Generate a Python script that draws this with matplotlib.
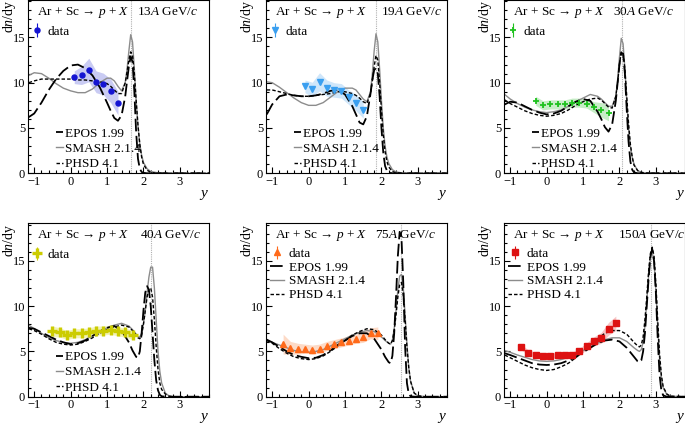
"""Ar+Sc -> p + X rapidity spectra at six beam momenta, data vs EPOS/SMASH/PHSD."""

import matplotlib

matplotlib.use("Agg")
import matplotlib.pyplot as plt
from matplotlib.ticker import MultipleLocator

plt.rcParams["font.family"] = ["Liberation Serif", "DejaVu Serif"]
plt.rcParams["mathtext.fontset"] = "custom"
plt.rcParams["mathtext.rm"] = "Liberation Serif"
plt.rcParams["mathtext.it"] = "Liberation Serif:italic"

# ---- 13A GeV/c -------------------------------------------------------------
X_13 = [-1.15, -1.0, -0.8, -0.6, -0.4, -0.2, 0.0, 0.2, 0.4, 0.6, 0.8, 1.0, 1.1, 1.2,
        1.3, 1.4, 1.5, 1.55, 1.6, 1.65, 1.7, 1.75, 1.8, 1.85, 1.9, 1.95, 2.0, 2.1,
        2.2, 2.4, 2.6, 3.0, 3.8]
EPOS_13 = [6.2, 6.6, 7.8, 9.2, 10.4, 11.3, 11.9, 12.0, 11.6, 10.8, 9.5, 7.8, 6.9, 6.1,
           5.8, 6.4, 8.5, 10.2, 11.8, 12.9, 12.3, 9.0, 4.5, 1.6, 0.5, 0.15, 0.05, 0.0,
           0.0, 0.0, 0.0, 0.0, 0.0]
SMASH_13 = [10.8, 11.1, 11.0, 10.5, 9.9, 9.4, 9.1, 8.9, 8.9, 9.3, 10.0, 10.5, 10.5, 10.2,
            9.6, 9.1, 10.0, 11.5, 13.5, 15.3, 14.5, 11.5, 8.0, 5.2, 3.2, 2.0, 1.2, 0.5,
            0.2, 0.05, 0.0, 0.0, 0.0]
PHSD_13 = [10.0, 10.2, 10.4, 10.4, 10.4, 10.4, 10.4, 10.3, 10.3, 10.2, 10.1, 9.9, 9.6, 9.2,
           8.8, 8.8, 10.0, 11.2, 12.5, 13.4, 13.0, 11.0, 8.0, 5.3, 3.2, 1.8, 1.0, 0.35,
           0.1, 0.0, 0.0, 0.0, 0.0]
DATA_X_13 = [0.1, 0.3, 0.5, 0.7, 0.9, 1.1, 1.3]
DATA_Y_13 = [10.6, 10.8, 11.4, 10.1, 9.85, 9.1, 7.75]
DATA_SYS_13 = [0.7, 1.0, 1.3, 1.2, 1.2, 1.3, 1.3]

# ---- 19A GeV/c -------------------------------------------------------------
X_19 = [-1.15, -1.0, -0.8, -0.6, -0.4, -0.2, 0.0, 0.2, 0.4, 0.6, 0.8, 1.0, 1.2, 1.3,
        1.4, 1.5, 1.6, 1.7, 1.75, 1.8, 1.85, 1.9, 1.95, 2.0, 2.05, 2.1, 2.15, 2.2,
        2.3, 2.4, 2.6, 3.0, 3.8]
EPOS_19 = [6.5, 7.6, 8.5, 8.7, 8.6, 8.5, 8.5, 8.6, 8.8, 9.1, 9.2, 8.7, 7.4, 6.5,
           5.6, 5.4, 6.3, 8.8, 10.3, 11.4, 11.6, 11.0, 8.5, 5.0, 2.3, 0.8, 0.3, 0.1,
           0.0, 0.0, 0.0, 0.0, 0.0]
SMASH_19 = [10.1, 10.0, 9.5, 8.9, 8.3, 7.8, 7.5, 7.5, 7.8, 8.4, 9.0, 9.4, 9.4, 9.2,
            8.7, 8.2, 7.9, 9.0, 11.0, 13.5, 15.4, 14.5, 11.5, 8.0, 5.0, 3.0, 1.8, 1.1,
            0.4, 0.15, 0.02, 0.0, 0.0]
PHSD_19 = [9.2, 9.2, 9.0, 8.8, 8.6, 8.5, 8.5, 8.6, 8.7, 8.8, 9.0, 9.0, 8.8, 8.6,
           8.3, 7.9, 7.7, 8.8, 10.2, 11.8, 13.0, 12.5, 10.0, 7.0, 4.3, 2.4, 1.3, 0.7,
           0.2, 0.05, 0.0, 0.0, 0.0]
DATA_X_19 = [-0.1, 0.1, 0.3, 0.5, 0.7, 0.9, 1.1, 1.3, 1.5]
DATA_Y_19 = [9.6, 9.25, 10.1, 9.4, 9.2, 9.1, 8.4, 7.8, 7.0]
DATA_SYS_19 = [0.7, 0.8, 1.0, 0.9, 0.8, 0.8, 0.8, 0.9, 0.9]

# ---- 30A GeV/c -------------------------------------------------------------
X_30 = [-1.15, -1.0, -0.8, -0.6, -0.4, -0.2, 0.0, 0.2, 0.4, 0.6, 0.8, 1.0, 1.2, 1.4,
        1.5, 1.6, 1.7, 1.8, 1.9, 1.95, 2.0, 2.05, 2.1, 2.15, 2.2, 2.25, 2.3, 2.35,
        2.4, 2.5, 2.6, 2.8, 3.8]
EPOS_30 = [7.6, 7.9, 7.8, 7.4, 7.0, 6.7, 6.5, 6.6, 6.9, 7.4, 7.9, 8.2, 8.0, 6.8,
           6.0, 5.1, 4.6, 5.4, 8.0, 10.0, 12.0, 13.3, 13.2, 11.0, 7.0, 3.5, 1.3, 0.4,
           0.1, 0.0, 0.0, 0.0, 0.0]
SMASH_30 = [8.7, 8.2, 7.7, 7.3, 7.0, 6.8, 6.7, 6.8, 7.0, 7.4, 7.9, 8.3, 8.7, 8.5,
            8.2, 7.8, 7.4, 7.4, 8.5, 10.3, 12.8, 14.9, 14.3, 11.5, 8.0, 5.0, 3.0, 1.8,
            1.0, 0.3, 0.1, 0.0, 0.0]
PHSD_30 = [8.1, 7.7, 7.3, 6.9, 6.6, 6.4, 6.3, 6.4, 6.6, 7.0, 7.5, 7.9, 8.2, 8.3,
           8.1, 7.7, 7.3, 7.2, 8.5, 10.0, 12.0, 13.4, 13.3, 11.5, 8.5, 5.5, 3.2, 1.8,
           0.9, 0.3, 0.1, 0.0, 0.0]
DATA_X_30 = [-0.3, -0.1, 0.1, 0.3, 0.5, 0.7, 0.9, 1.1, 1.3, 1.5, 1.7]
DATA_Y_30 = [8.0, 7.5, 7.6, 7.6, 7.6, 7.8, 7.8, 7.7, 7.3, 7.0, 6.7]
DATA_SYS_30 = [0.5, 0.5, 0.5, 0.5, 0.5, 0.5, 0.5, 0.5, 0.6, 0.8, 0.9]

# ---- 40A GeV/c -------------------------------------------------------------
X_40 = [-1.15, -1.0, -0.8, -0.6, -0.4, -0.2, 0.0, 0.2, 0.4, 0.6, 0.8, 1.0, 1.2, 1.4,
        1.6, 1.7, 1.8, 1.85, 1.9, 1.95, 2.0, 2.05, 2.1, 2.15, 2.2, 2.25, 2.3, 2.35,
        2.4, 2.45, 2.5, 2.6, 2.7, 2.8, 3.8]
EPOS_40 = [7.6, 7.5, 7.1, 6.7, 6.3, 6.0, 5.8, 5.9, 6.2, 6.7, 7.2, 7.6, 7.8, 7.3,
           6.0, 5.1, 4.4, 4.3, 5.0, 7.0, 9.5, 11.5, 12.2, 11.8, 10.0, 7.0, 4.0, 1.8,
           0.7, 0.2, 0.05, 0.0, 0.0, 0.0, 0.0]
SMASH_40 = [7.9, 7.5, 7.0, 6.5, 6.2, 6.0, 5.9, 6.0, 6.3, 6.7, 7.2, 7.6, 7.9, 8.1,
            7.8, 7.4, 6.9, 6.6, 6.6, 7.0, 8.0, 9.5, 11.5, 13.2, 14.3, 14.3, 12.0, 8.5,
            5.0, 2.8, 1.5, 0.4, 0.1, 0.0, 0.0]
PHSD_40 = [7.5, 7.3, 6.9, 6.4, 6.0, 5.8, 5.7, 5.8, 6.1, 6.5, 7.0, 7.4, 7.7, 7.9,
           7.7, 7.3, 6.8, 6.5, 6.4, 6.8, 8.0, 9.5, 11.0, 11.9, 12.0, 11.0, 8.5, 5.5,
           3.0, 1.5, 0.8, 0.3, 0.05, 0.0, 0.0]
DATA_X_40 = [-0.5, -0.3, -0.1, 0.1, 0.3, 0.5, 0.7, 0.9, 1.1, 1.3, 1.5, 1.7]
DATA_Y_40 = [7.2, 7.1, 6.8, 7.0, 7.0, 7.1, 7.3, 7.3, 7.4, 7.2, 7.1, 6.8]
DATA_SYS_40 = [0.6, 0.5, 0.5, 0.5, 0.5, 0.5, 0.5, 0.5, 0.5, 0.5, 0.5, 0.5]

# ---- 75A GeV/c -------------------------------------------------------------
X_75 = [-1.15, -1.0, -0.8, -0.6, -0.4, -0.2, 0.0, 0.2, 0.4, 0.6, 0.8, 1.0, 1.2, 1.4,
        1.6, 1.8, 2.0, 2.1, 2.2, 2.25, 2.3, 2.35, 2.4, 2.45, 2.5, 2.55, 2.6, 2.65,
        2.7, 2.75, 2.8, 2.9, 3.0, 3.2, 3.8]
EPOS_75 = [6.3, 6.0, 5.5, 5.0, 4.6, 4.4, 4.25, 4.3, 4.6, 5.1, 5.7, 6.2, 6.7, 7.0,
           7.0, 6.4, 5.2, 4.4, 3.8, 3.7, 4.5, 7.0, 11.0, 15.5, 18.2, 17.5, 12.5, 5.5,
           1.5, 0.3, 0.05, 0.0, 0.0, 0.0, 0.0]
SMASH_75 = [6.2, 6.0, 5.7, 5.4, 5.1, 4.95, 4.9, 5.0, 5.2, 5.6, 6.0, 6.4, 6.8, 7.1,
            7.3, 7.2, 6.6, 6.2, 5.9, 5.8, 6.2, 7.5, 9.5, 11.8, 13.3, 13.5, 12.0, 9.0,
            5.8, 3.2, 1.7, 0.4, 0.1, 0.0, 0.0]
PHSD_75 = [6.2, 5.9, 5.3, 4.8, 4.4, 4.2, 4.1, 4.2, 4.5, 5.0, 5.6, 6.2, 6.8, 7.2,
           7.5, 7.4, 6.8, 6.3, 5.9, 5.8, 6.2, 7.3, 9.0, 11.0, 12.4, 12.6, 11.2, 8.5,
           5.5, 3.2, 1.7, 0.4, 0.1, 0.0, 0.0]
DATA_X_75 = [-0.7, -0.5, -0.3, -0.1, 0.1, 0.3, 0.5, 0.7, 0.9, 1.1, 1.3, 1.5, 1.7, 1.9]
DATA_Y_75 = [5.8, 5.4, 5.3, 5.3, 5.2, 5.3, 5.6, 5.8, 6.0, 6.2, 6.4, 6.6, 7.0, 7.0]
DATA_SYS_75 = [1.1, 0.7, 0.6, 0.5, 0.5, 0.5, 0.5, 0.5, 0.5, 0.5, 0.5, 0.6, 0.6, 0.7]

# ---- 150A GeV/c ------------------------------------------------------------
X_150 = [-1.15, -1.0, -0.8, -0.6, -0.4, -0.2, 0.0, 0.2, 0.4, 0.6, 0.8, 1.0, 1.2, 1.4,
         1.6, 1.8, 2.0, 2.2, 2.4, 2.5, 2.55, 2.6, 2.65, 2.7, 2.75, 2.8, 2.85, 2.9,
         2.95, 3.0, 3.05, 3.1, 3.15, 3.2, 3.3, 3.4, 3.8]
EPOS_150 = [4.8, 4.6, 4.3, 4.0, 3.7, 3.55, 3.5, 3.55, 3.7, 4.0, 4.4, 4.9, 5.4, 5.9,
            6.2, 6.3, 6.1, 5.4, 4.4, 3.9, 3.8, 4.0, 5.0, 7.0, 10.0, 13.0, 15.5, 16.3,
            15.0, 11.5, 6.5, 2.5, 0.7, 0.15, 0.0, 0.0, 0.0]
SMASH_150 = [5.1, 4.9, 4.6, 4.35, 4.1, 3.95, 3.9, 3.95, 4.1, 4.35, 4.7, 5.1, 5.5, 5.9,
             6.3, 6.5, 6.5, 6.1, 5.4, 5.1, 5.0, 5.2, 6.0, 7.8, 10.5, 13.3, 15.3, 16.0,
             14.8, 11.8, 7.8, 4.3, 2.2, 1.0, 0.25, 0.05, 0.0]
PHSD_150 = [4.6, 4.3, 3.9, 3.5, 3.2, 3.0, 2.9, 3.0, 3.3, 3.7, 4.3, 5.0, 5.7, 6.4,
            7.0, 7.3, 7.3, 6.9, 6.0, 5.6, 5.5, 5.7, 6.6, 8.5, 11.0, 13.8, 15.8, 16.5,
            15.5, 12.5, 8.5, 4.8, 2.4, 1.1, 0.3, 0.05, 0.0]
DATA_X_150 = [-0.7, -0.5, -0.3, -0.1, 0.1, 0.3, 0.5, 0.7, 0.9, 1.1, 1.3, 1.5, 1.7, 1.9]
DATA_Y_150 = [5.5, 4.85, 4.6, 4.5, 4.5, 4.6, 4.6, 4.6, 5.0, 5.55, 6.1, 6.5, 7.5, 8.1]
DATA_SYS_150 = [0.3, 0.3, 0.3, 0.3, 0.3, 0.3, 0.3, 0.3, 0.35, 0.4, 0.5, 0.6, 0.7, 0.8]

ENERGY_LABELS = ["13", "19", "30", "40", "75", "150"]
BEAM_RAPIDITY = [1.66, 1.85, 2.08, 2.22, 2.54, 2.88]

# per-panel style: (marker, size, edge width, colour, band colour)
DATA_STYLE = [
    ("o", 3.6, 1.0, "#1414d2", "#c9cbf3"),
    ("v", 4.2, 1.0, "#3a9ff0", "#cfe6fa"),
    ("+", 5.0, 1.3, "#1fc21f", "#c6edc6"),
    ("+", 7.0, 2.4, "#cccc00", "#f2f2b8"),
    ("^", 4.2, 1.0, "#ff6a1a", "#fddac6"),
    ("s", 4.2, 1.0, "#dd1111", "#f8c6c6"),
]
ENERGY_TEXT_X = [0.60, 0.637, 0.60, 0.62, 0.60, 0.63]

PANELS = [
    (X_13, EPOS_13, SMASH_13, PHSD_13, DATA_X_13, DATA_Y_13, DATA_SYS_13),
    (X_19, EPOS_19, SMASH_19, PHSD_19, DATA_X_19, DATA_Y_19, DATA_SYS_19),
    (X_30, EPOS_30, SMASH_30, PHSD_30, DATA_X_30, DATA_Y_30, DATA_SYS_30),
    (X_40, EPOS_40, SMASH_40, PHSD_40, DATA_X_40, DATA_Y_40, DATA_SYS_40),
    (X_75, EPOS_75, SMASH_75, PHSD_75, DATA_X_75, DATA_Y_75, DATA_SYS_75),
    (X_150, EPOS_150, SMASH_150, PHSD_150, DATA_X_150, DATA_Y_150, DATA_SYS_150),
]

FS = 9.5       # titles and legends
TICK_FS = 9


def draw_panel(ax, idx):
    xs, epos, smash, phsd, dx, dy, dsys = PANELS[idx]
    marker, msize, mew, color, band = DATA_STYLE[idx]

    lo = [v - s for v, s in zip(dy, dsys)]
    hi = [v + s for v, s in zip(dy, dsys)]
    ax.fill_between(dx, lo, hi, color=band, lw=0, zorder=1)

    ax.axvline(BEAM_RAPIDITY[idx], color="#b0b0b0", lw=0.8, ls=(0, (1, 1)), zorder=1)

    l_epos, = ax.plot(xs, epos, color="black", lw=1.3, ls=(0, (7, 2.5)), zorder=3)
    l_smash, = ax.plot(xs, smash, color="#8c8c8c", lw=1.0, zorder=2)
    l_phsd, = ax.plot(xs, phsd, color="black", lw=1.0, ls=(0, (2.5, 1.5)), zorder=3)

    stat = [0.15] * len(dx)
    h_data = ax.errorbar(dx, dy, yerr=stat, fmt=marker, ms=msize, mew=mew, color=color,
                         mec=color, elinewidth=0.8, capsize=0, zorder=4)

    ax.set_xlim(-1.17, 3.8)
    ax.set_ylim(0, 19.15)
    ax.set_xticks([-1, 0, 1, 2, 3])
    ax.set_yticks([0, 5, 10, 15])
    ax.xaxis.set_minor_locator(MultipleLocator(0.2))
    ax.yaxis.set_minor_locator(MultipleLocator(1))
    ax.tick_params(which="both", direction="in", top=False, right=False,
                   labelsize=TICK_FS, width=0.8)
    ax.tick_params(which="major", length=4.5, pad=2)
    ax.tick_params(which="minor", length=2.5)
    ax.set_xticklabels(["\u22121", "0", "1", "2", "3"])
    for sp in ax.spines.values():
        sp.set_linewidth(0.8)

    # y title sits in the corner, above the "15" tick label
    ax.text(-0.1, 1.0, "d$n$/dy", transform=ax.transAxes, rotation=90,
            ha="center", va="top", fontsize=10)
    ax.set_xlabel("$y$", loc="right", fontsize=11, labelpad=0)

    ax.text(0.05, 0.915, "Ar + Sc \u2192 $p$ + $X$", transform=ax.transAxes, fontsize=FS)
    ax.text(ENERGY_TEXT_X[idx], 0.915, ENERGY_LABELS[idx] + "$A$ GeV/$c$",
            transform=ax.transAxes, fontsize=FS)

    if idx < 4:
        leg1 = ax.legend([h_data], ["data"], loc="upper left", bbox_to_anchor=(0.025, 0.853),
                         frameon=False, fontsize=FS, handlelength=0.7, handletextpad=0.4,
                         borderaxespad=0.0, borderpad=0.0)
        ax.add_artist(leg1)
        ax.legend([l_epos, l_smash, l_phsd], ["EPOS 1.99", "SMASH 2.1.4", "PHSD 4.1"],
                  loc="lower left", bbox_to_anchor=(0.155, 0.018), frameon=False,
                  fontsize=FS, handlelength=0.55, handletextpad=0.15, labelspacing=0.22,
                  borderaxespad=0.0, borderpad=0.0)
    else:
        ax.legend([h_data, l_epos, l_smash, l_phsd],
                  ["data", "EPOS 1.99", "SMASH 2.1.4", "PHSD 4.1"],
                  loc="upper left", bbox_to_anchor=(0.02, 0.86), frameon=False,
                  fontsize=FS, handlelength=1.1, handletextpad=0.35, labelspacing=0.12,
                  borderaxespad=0.0, borderpad=0.0)


def main():
    fig = plt.figure(figsize=(6.85, 4.28), dpi=100)
    fig.patch.set_facecolor("white")
    lefts = [28 / 685, 266 / 685, 504 / 685]
    bottoms = [1 - 173.3 / 428, 1 - 396.7 / 428]
    w, h = 181 / 685, 173.5 / 428
    for idx in range(6):
        row, col = divmod(idx, 3)
        ax = fig.add_axes([lefts[col], bottoms[row], w, h])
        draw_panel(ax, idx)
    fig.savefig("out.png", dpi=100, facecolor="white")


if __name__ == "__main__":
    main()
